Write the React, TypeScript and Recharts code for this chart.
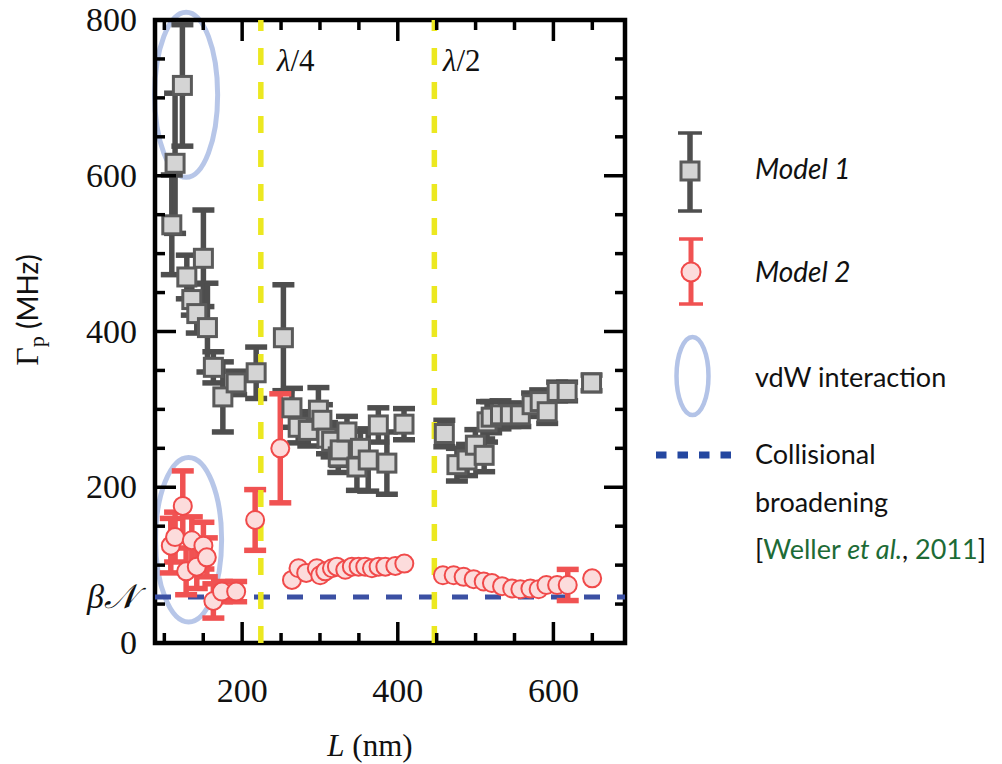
import React from 'react';
import { ScatterChart, Scatter, XAxis, YAxis, ErrorBar, ReferenceLine, ReferenceArea } from 'recharts';

// ---- data ----
const model1L = [109.6, 113.8, 123.2, 128.9, 135.3, 141.7, 150.2, 155.4, 163, 175.2, 192.3, 218, 253, 264, 272, 285, 298, 302.5, 309, 315, 323.5, 326, 334.7, 347.5, 352, 362, 375, 386, 408, 459.8, 476, 489, 499.7, 511, 514.7, 520, 532, 544.7, 557.5, 572.6, 583, 592, 604.8, 617.6, 649];
const model1G = [537, 616, 716, 470, 441, 423, 494, 405, 354, 316, 334, 347, 392, 302, 277, 273, 299, 286, 263, 259, 239, 248, 271, 226, 250, 235, 280, 231, 281, 269, 229, 235, 254, 241, 284, 290, 293, 293, 293, 306, 310, 297, 323, 323, 334];
const model1E = [64, 90, 78, 28, 20, 25, 62, 57, 20, 45, 15, 33, 68, 25, 20, 20, 29, 20, 20, 20, 20, 20, 20, 30, 22, 40, 22, 40, 20, 17, 21, 20, 20, 21, 26, 20, 18, 15, 15, 15, 15, 15, 12, 12, 10];

const model2L = [108.3, 113.8, 123.7, 128, 135.3, 141.7, 150.2, 154.6, 163, 174, 192.3, 216.7, 249, 264, 272.4, 282.3, 296, 300.3, 306.8, 315.4, 321.8, 332.5, 341, 349.6, 358.2, 366.8, 375.3, 384, 396.8, 408.4, 458, 471.8, 484.6, 497.5, 510.4, 521, 534, 547, 557.5, 570.4, 581, 591, 604.8, 618.4, 649.8];
const model2G = [125, 136, 176, 92, 132, 98, 125, 110, 54, 66, 66, 158, 250, 81, 96, 90, 96, 87, 92, 96, 98, 94, 98, 98, 98, 96, 98, 98, 99, 102, 87, 87, 85, 82, 79, 77, 73, 70, 69, 70, 69, 74.5, 74.5, 74.5, 83];
const model2E: (number | null)[] = [35, 32, 45, 30, 30, 28, 30, 25, 22, 13, 13, 39, 70, null, null, null, null, null, null, null, null, null, null, null, null, null, null, null, null, null, null, null, null, null, null, null, null, null, null, null, null, null, null, 20, null];

const xDomain = [88, 692];
const yDomain = [0, 800];
const xTicks = [100, 150, 200, 250, 300, 350, 400, 450, 500, 550, 600, 650];
const yTicks = [0, 50, 100, 150, 200, 250, 300, 350, 400, 450, 500, 550, 600, 650, 700, 750, 800];
const xLabelTicks = [200, 400, 600];
const yLabelTicks = [0, 200, 400, 600, 800];
const quarterWave = 224;
const halfWave = 447;
const betaN = 59;
// vdW ellipses: [L1, L2, G1, G2]
const vdwUpper = [87.5, 168.5, 598, 810];
const vdwLower = [88.7, 173.6, 27, 238.3];

const model1 = model1L.map((L, i) => ({ L, G: model1G[i], E: model1E[i] }));
const model2 = model2L.map((L, i) => ({ L, G: model2G[i], E: model2E[i] }));

const SERIF = '"Liberation Serif", "DejaVu Serif", serif';
const SANS = 'Lato, "Open Sans", "DejaVu Sans", sans-serif';

const GRAY_BAR = '#4e4e4e';
const RED_BAR = '#f05252';
const ELLIPSE = '#b3c3e7';

const XTickBottom = (p: any) => {
  const v = p.payload.value;
  const major = xLabelTicks.includes(v);
  return (
    <g>
      <line x1={p.x} x2={p.x} y1={p.y} y2={p.y - (major ? 21 : 10)} stroke="#000" strokeWidth={3.5} />
      {major && (
        <text x={p.x} y={p.y + 59} textAnchor="middle" fontFamily={SERIF} fontSize={34} fill="#111">{v}</text>
      )}
    </g>
  );
};
const XTickTop = (p: any) => {
  const v = p.payload.value;
  const major = xLabelTicks.includes(v);
  return <line x1={p.x} x2={p.x} y1={p.y} y2={p.y + (major ? 21 : 10)} stroke="#000" strokeWidth={3.5} />;
};
const YTickLeft = (p: any) => {
  const v = p.payload.value;
  if (v === betaN) {
    return (
      <text x={p.x - 18} y={p.y + 11} textAnchor="end" fontFamily={SERIF} fontSize={34} fontStyle="italic" fill="#111">
        β𝒩
      </text>
    );
  }
  const major = yLabelTicks.includes(v);
  return (
    <g>
      <line x1={p.x} x2={p.x + (major ? 21 : 10)} y1={p.y} y2={p.y} stroke="#000" strokeWidth={3.5} />
      {major && (
        <text x={p.x - 18} y={p.y + 11} textAnchor="end" fontFamily={SERIF} fontSize={34} fill="#111">{v}</text>
      )}
    </g>
  );
};
const YTickRight = (p: any) => {
  const v = p.payload.value;
  const major = yLabelTicks.includes(v);
  return <line x1={p.x} x2={p.x - (major ? 21 : 10)} y1={p.y} y2={p.y} stroke="#000" strokeWidth={3.5} />;
};

const SquareShape = (p: any) => {
  if (p.cx == null || p.cy == null) return null;
  return <rect x={p.cx - 9} y={p.cy - 9} width={18} height={18} fill="#d4d4d4" stroke="#5a5a5a" strokeWidth={3} />;
};
const CircleShape = (p: any) => {
  if (p.cx == null || p.cy == null) return null;
  return <circle cx={p.cx} cy={p.cy} r={9} fill="#fcdcdc" stroke="#f04a4a" strokeWidth={2} />;
};
const EllipseShape = (p: any) => {
  const { x, y, width, height } = p;
  if (x == null) return null;
  return (
    <ellipse cx={x + width / 2} cy={y + height / 2} rx={Math.abs(width) / 2} ry={Math.abs(height) / 2}
      fill="none" stroke={ELLIPSE} strokeWidth={5} strokeOpacity={0.95} />
  );
};

export default function App() {
  return (
    <div style={{ position: 'absolute', left: 0, top: 0, width: 1002, height: 764, background: '#fff' }}>
      <ScatterChart width={640} height={764} margin={{ top: 19, right: 14, bottom: 61, left: 95 }}>
        <XAxis xAxisId={0} dataKey="L" type="number" domain={xDomain} allowDataOverflow ticks={xTicks} interval={0}
          orientation="bottom" height={60} tickSize={0} tickMargin={0} axisLine={false} tickLine={false} tick={<XTickBottom />} />
        <XAxis xAxisId="top" dataKey="L" type="number" domain={xDomain} allowDataOverflow ticks={xTicks} interval={0}
          orientation="top" height={1} tickSize={0} tickMargin={0} axisLine={false} tickLine={false} tick={<XTickTop />} />
        <YAxis yAxisId={0} dataKey="G" type="number" domain={yDomain} allowDataOverflow ticks={[...yTicks, betaN]} interval={0}
          orientation="left" width={60} tickSize={0} tickMargin={0} axisLine={false} tickLine={false} tick={<YTickLeft />} />
        <YAxis yAxisId="right" dataKey="G" type="number" domain={yDomain} allowDataOverflow ticks={yTicks} interval={0}
          orientation="right" width={1} tickSize={0} tickMargin={0} axisLine={false} tickLine={false} tick={<YTickRight />} />

        <ReferenceLine y={betaN} stroke="#3b50a3" strokeWidth={5} strokeDasharray="16 17" />

        <Scatter data={model1} fill="#d4d4d4" shape={<SquareShape />} isAnimationActive={false}>
          <ErrorBar dataKey="E" direction="y" width={11} stroke={GRAY_BAR} strokeWidth={5.5} />
        </Scatter>
        <Scatter data={model2} fill="#fcdcdc" shape={<CircleShape />} isAnimationActive={false}>
          <ErrorBar dataKey="E" direction="y" width={11} stroke={RED_BAR} strokeWidth={5.5} />
        </Scatter>

        <ReferenceLine x={quarterWave} stroke="#ece820" strokeWidth={5.5} strokeDasharray="17 17" />
        <ReferenceLine x={halfWave} stroke="#ece820" strokeWidth={5.5} strokeDasharray="17 17" />

        <ReferenceArea x1={vdwUpper[0]} x2={vdwUpper[1]} y1={vdwUpper[2]} y2={vdwUpper[3]} ifOverflow="visible" shape={<EllipseShape />} />
        <ReferenceArea x1={vdwLower[0]} x2={vdwLower[1]} y1={vdwLower[2]} y2={vdwLower[3]} ifOverflow="visible" shape={<EllipseShape />} />

        <ReferenceArea x1={xDomain[0]} x2={xDomain[1]} y1={yDomain[0]} y2={yDomain[1]} fill="none" fillOpacity={0}
          stroke="#000" strokeWidth={4.5} />
      </ScatterChart>

      <svg width={1002} height={764} style={{ position: 'absolute', left: 0, top: 0, pointerEvents: 'none' }}>
        {/* wavelength labels */}
        <text x={277} y={71} fontFamily={SERIF} fontSize={31} fill="#111"><tspan fontStyle="italic">λ</tspan>/4</text>
        <text x={443} y={71} fontFamily={SERIF} fontSize={31} fill="#111"><tspan fontStyle="italic">λ</tspan>/2</text>

        {/* axis titles */}
        <text x={370} y={756} textAnchor="middle" fontFamily={SERIF} fontSize={31} fill="#111">
          <tspan fontStyle="italic">L</tspan> (nm)
        </text>
        <text transform="rotate(-90 38 310)" x={38} y={310} textAnchor="middle" fontFamily={SERIF} fontSize={32} fill="#111">
          Γ<tspan fontSize={22} dy={6}>p</tspan><tspan dy={-6} fontFamily={SANS} fontSize={28}> (MHz)</tspan>
        </text>

        {/* legend */}
        <line x1={690} x2={690} y1={133} y2={211} stroke={GRAY_BAR} strokeWidth={5.5} />
        <line x1={678} x2={702} y1={133} y2={133} stroke={GRAY_BAR} strokeWidth={3.5} />
        <line x1={678} x2={702} y1={211} y2={211} stroke={GRAY_BAR} strokeWidth={3.5} />
        <rect x={681} y={162} width={18} height={18} fill="#d4d4d4" stroke="#5a5a5a" strokeWidth={3} />
        <text x={755} y={179} fontFamily={SANS} fontStyle="italic" fontSize={28} fill="#111">Model 1</text>

        <line x1={691} x2={691} y1={239} y2={304} stroke={RED_BAR} strokeWidth={5} />
        <line x1={679} x2={703} y1={239} y2={239} stroke={RED_BAR} strokeWidth={3.5} />
        <line x1={679} x2={703} y1={304} y2={304} stroke={RED_BAR} strokeWidth={3.5} />
        <circle cx={691} cy={272} r={9.5} fill="#fcdcdc" stroke="#f04a4a" strokeWidth={2} />
        <text x={755} y={282} fontFamily={SANS} fontStyle="italic" fontSize={28} fill="#111">Model 2</text>

        <ellipse cx={692.5} cy={376} rx={16} ry={39} fill="none" stroke={ELLIPSE} strokeWidth={4.5} />
        <text x={755} y={387} fontFamily={SANS} fontSize={27} fill="#111">vdW interaction</text>

        <line x1={656} x2={732} y1={455} y2={455} stroke="#2447a0" strokeWidth={7} strokeDasharray="10.5 11" />
        <text x={755} y={464} fontFamily={SANS} fontSize={27} fill="#111">Collisional</text>
        <text x={755} y={512} fontFamily={SANS} fontSize={27} fill="#111">broadening</text>
        <text x={755} y={559} fontFamily={SANS} fontSize={27} fill="#111">
          [<tspan fill="#1d6b36">Weller </tspan><tspan fill="#1d6b36" fontStyle="italic">et al.</tspan>, <tspan fill="#1d6b36">2011</tspan>]
        </text>
      </svg>
    </div>
  );
}
